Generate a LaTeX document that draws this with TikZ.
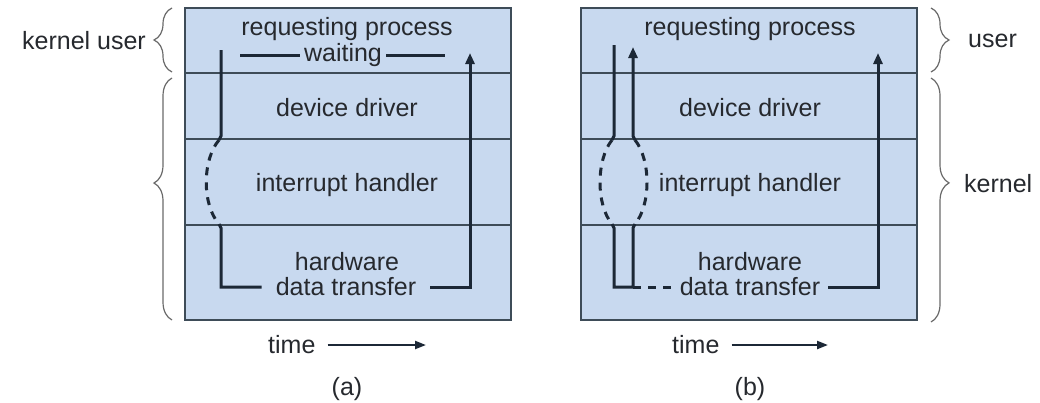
\documentclass[tikz,border=0pt]{standalone}
\usepackage{fontspec}
\setmainfont{Liberation Sans}
\usetikzlibrary{arrows.meta,decorations.pathreplacing}

\definecolor{panelfill}{HTML}{C8D9EF}
\definecolor{panelline}{HTML}{3E4C58}
\definecolor{flowline}{HTML}{1C2836}
\definecolor{labeltext}{HTML}{26292E}
\definecolor{bracegray}{HTML}{6A6A6A}

\tikzset{
  panel/.style={fill=panelfill, draw=panelline, line width=1.8pt},
  rowline/.style={draw=panelline, line width=1.6pt},
  lbl/.style={text=labeltext, inner sep=0pt, font=\fontsize{25}{30}\selectfont},
  flow/.style={draw=flowline, line width=3pt, line join=miter},
  flowdash/.style={flow, dash pattern=on 8pt off 7pt},
  uptip/.style={-{Triangle[length=11pt,width=9pt]}},
  timearrow/.style={draw=flowline, line width=2.2pt, -{Triangle[length=11pt,width=8pt]}},
  bracket/.style={draw=bracegray, line width=1.2pt,
    decorate, decoration={brace, amplitude=18pt}}
}

\begin{document}
\begin{tikzpicture}[x=1pt,y=-1pt]
  \useasboundingbox[fill=white] (0,0) rectangle (1040,402);

  % ---------------- panel (a): synchronous I/O ----------------
  \draw[panel] (185,8) rectangle (511,320);
  \draw[rowline] (185,73) -- (511,73);
  \draw[rowline] (185,139) -- (511,139);
  \draw[rowline] (185,225) -- (511,225);

  \node[lbl] (rpa) at (347,29) {requesting process};
  \node[lbl, inner xsep=4pt] (wait) at (343,55) {waiting};
  \node[lbl] (dda) at (347,108) {device driver};
  \node[lbl] (iha) at (347,185) {interrupt handler};
  \node[lbl] (hwa) at (347,262) {hardware};
  \node[lbl, inner xsep=14pt] (dta) at (346,287) {data transfer};

  \coordinate (wl) at (240,55);
  \coordinate (wr) at (445,55);
  \draw[flow] (wl) -- (wait.west);
  \draw[flow] (wait.east) -- (wr);

  \coordinate (a1) at (221,50);
  \coordinate (a2) at (221,136);
  \coordinate (a3) at (219,140);
  \coordinate (a4) at (219,224);
  \coordinate (a5) at (221,228);
  \coordinate (a6) at (221,287);
  \coordinate (a7) at (470,287);
  \coordinate (a8) at (470,53);
  \draw[flow] (a1) -- (a2) -- (a3);
  \draw[flowdash] (a3) .. controls (202,160) and (202,205) .. (a4);
  \draw[flow] (a4) -- (a5) -- (a6) -- (dta.west);
  \draw[flow, uptip] (dta.east) -- (a7) -- (a8);

  \node[lbl, anchor=west] (tma) at (268,345) {time};
  \coordinate (tae) at (426,345);
  \draw[timearrow] ([xshift=12pt]tma.east) -- (tae);
  \node[lbl] (capa) at (347,389) {(a)};

  % ---------------- panel (b): asynchronous I/O ----------------
  \draw[panel] (581,8) rectangle (917,320);
  \draw[rowline] (581,73) -- (917,73);
  \draw[rowline] (581,139) -- (917,139);
  \draw[rowline] (581,225) -- (917,225);

  \node[lbl] (rpb) at (750,29) {requesting process};
  \node[lbl] (ddb) at (750,108) {device driver};
  \node[lbl] (ihb) at (750,185) {interrupt handler};
  \node[lbl] (hwb) at (750,262) {hardware};
  \node[lbl, inner xsep=8pt] (dtb) at (750,287) {data transfer};

  \coordinate (b1) at (614,45);
  \coordinate (b2) at (614,136);
  \coordinate (b3) at (612,140);
  \coordinate (b4) at (612,224);
  \coordinate (b5) at (614,228);
  \coordinate (b6) at (614,287);
  \coordinate (c6) at (633,287);
  \coordinate (c5) at (633,228);
  \coordinate (c4) at (635,224);
  \coordinate (c3) at (635,140);
  \coordinate (c2) at (633,136);
  \coordinate (c1) at (633,47);
  \coordinate (b7) at (878,287);
  \coordinate (b8) at (878,53);

  \draw[flow] (b1) -- (b2) -- (b3);
  \draw[flowdash] (b3) .. controls (596,160) and (596,205) .. (b4);
  \draw[flowdash] (c3) .. controls (651,160) and (651,205) .. (c4);
  \draw[flow, uptip] (c3) -- (c2) -- (c1);
  \draw[flow] (b4) -- (b5) -- (b6) -- (c6) -- (c5) -- (c4);
  \draw[flowdash] (c6) -- (dtb.west);
  \draw[flow, uptip] (dtb.east) -- (b7) -- (b8);

  \node[lbl, anchor=west] (tmb) at (672,345) {time};
  \coordinate (tbe) at (828,345);
  \draw[timearrow] ([xshift=12pt]tmb.east) -- (tbe);
  \node[lbl] (capb) at (750,389) {(b)};

  % ---------------- mode braces ----------------
  \draw[bracket] (172,72) -- (172,8);
  \draw[bracket, decoration={aspect=0.566}] (172,320) -- (172,78);
  \node[lbl, anchor=east] (kua) at (146,41) {kernel user};

  \draw[bracket] (931,8) -- (931,72);
  \draw[bracket, decoration={aspect=0.43}] (931,78) -- (931,322);
  \node[lbl, anchor=west] (usr) at (968,41) {user};
  \node[lbl, anchor=west] (krn) at (964,184) {kernel};
\end{tikzpicture}
\end{document}
